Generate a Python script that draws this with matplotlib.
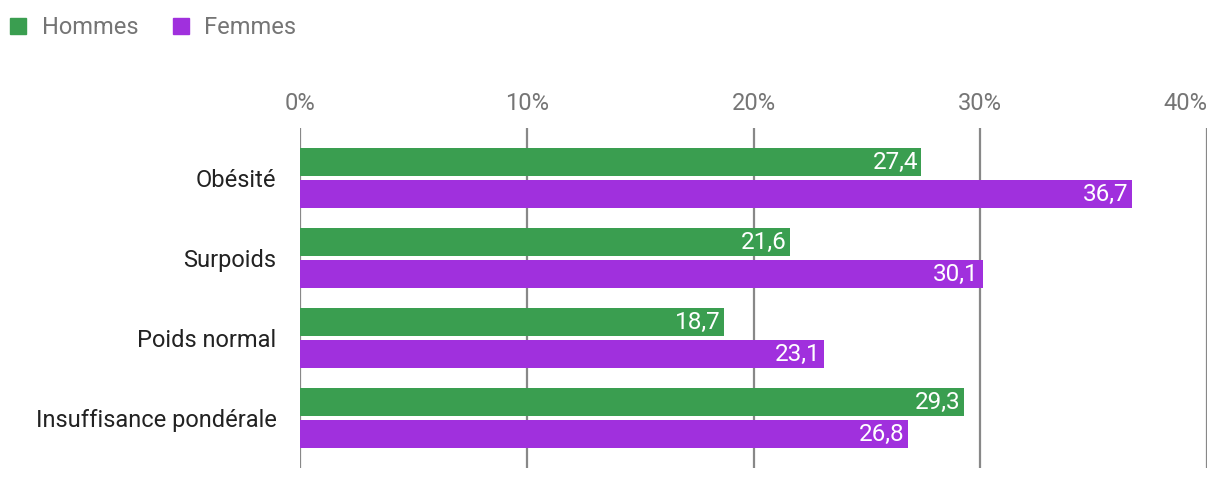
import matplotlib
matplotlib.use('Agg')
import matplotlib.pyplot as plt
from matplotlib.lines import Line2D

categories = ['Obésité', 'Surpoids', 'Poids normal', 'Insuffisance pondérale']
hommes = [27.4, 21.6, 18.7, 29.3]
femmes = [36.7, 30.1, 23.1, 26.8]
ticks = [0, 10, 20, 30, 40]

GREEN = '#3a9e50'
PURPLE = '#a030dd'
GRAY = '#757575'
FS = 17
plt.rcParams['font.family'] = ['Roboto', 'DejaVu Sans']

W, H = 1220, 480
fig = plt.figure(figsize=(W / 100, H / 100), dpi=100)
ax = fig.add_axes([300 / W, 12 / H, 907 / W, 340 / H])

ys = list(range(len(categories)))
h = 0.35
off = 0.2
ax.barh([y - off for y in ys], hommes, height=h, color=GREEN, zorder=3)
ax.barh([y + off for y in ys], femmes, height=h, color=PURPLE, zorder=3)

# value labels inside the bar ends
for y, v in zip(ys, hommes):
    ax.text(v - 0.15, y - off, f'{v:.1f}'.replace('.', ','), color='white',
            ha='right', va='center', fontsize=17.5, zorder=4)
for y, v in zip(ys, femmes):
    ax.text(v - 0.15, y + off, f'{v:.1f}'.replace('.', ','), color='white',
            ha='right', va='center', fontsize=17.5, zorder=4)

ax.set_xlim(0, 40)
ax.set_ylim(3.625, -0.625)
ax.set_xticks(ticks)
ax.set_xticklabels([f'{t}%' for t in ticks])
ax.xaxis.tick_top()
ax.tick_params(axis='x', length=0, pad=9, labelsize=FS, labelcolor=GRAY)
ax.get_xticklabels()[-1].set_ha('right')
ax.set_yticks(ys)
ax.set_yticklabels(categories)
ax.tick_params(axis='y', length=0, pad=17, labelsize=FS, labelcolor='#222222')
for t in ticks:
    ax.axvline(t, color='#888888', lw=1.6, zorder=2)
for s in ax.spines.values():
    s.set_visible(False)

handles = [Line2D([], [], marker='s', ls='', color=GREEN, markersize=11.5),
           Line2D([], [], marker='s', ls='', color=PURPLE, markersize=11.5)]
leg = fig.legend(handles, ['Hommes', 'Femmes'], loc='upper left',
                 bbox_to_anchor=(-3 / W, 1 - 7 / H), ncol=2, frameon=False,
                 fontsize=FS, handletextpad=0.5, columnspacing=1.3,
                 handlelength=1.0, borderaxespad=0)
for t in leg.get_texts():
    t.set_color(GRAY)

fig.savefig('out.png', dpi=100)
